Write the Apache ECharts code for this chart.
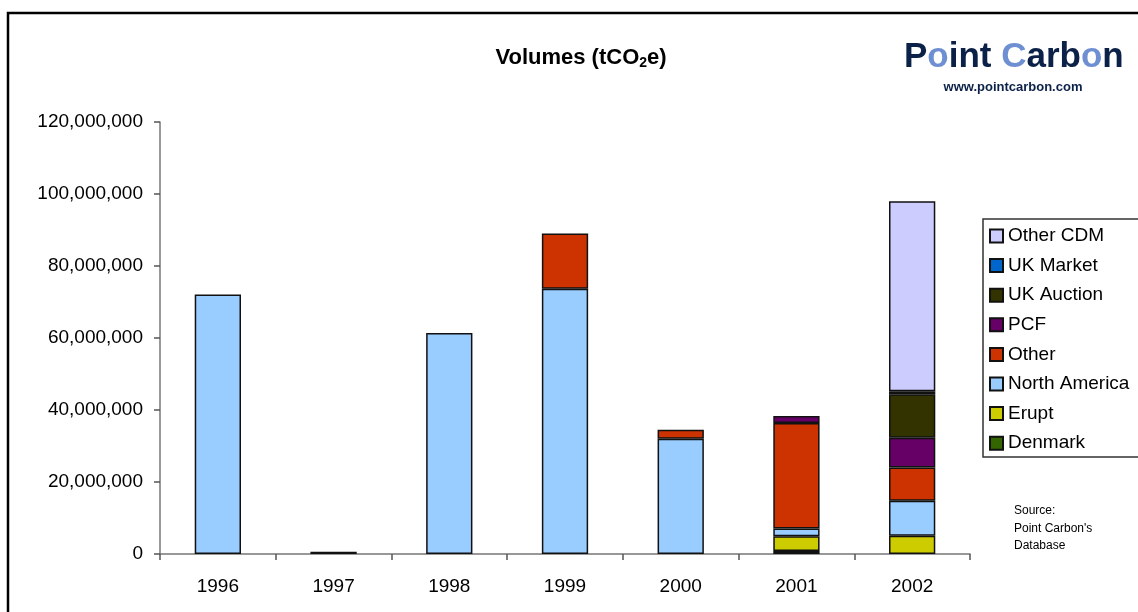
<!DOCTYPE html>
<html>
<head>
<meta charset="utf-8">
<script src="https://cdn.jsdelivr.net/npm/echarts@6/dist/echarts.min.js"></script>
<style>
  html, body { margin: 0; padding: 0; background: #fff; }
  #chart { width: 1138px; height: 612px; }
</style>
</head>
<body>
<div id="chart"></div>
<script>
// Traded volumes by year, tonnes CO2 equivalent
const years = ['1996', '1997', '1998', '1999', '2000', '2001', '2002'];

const denmark      = [null, null, null, null, null, 800000, null];
const erupt        = [null, null, null, null, null, 4100000, 5100000];
const northAmerica = [72100000, 600000, 61400000, 73700000, 32000000, 2200000, 9700000];
const other        = [null, null, null, 15300000, 2500000, 29300000, 9200000];
const pcf          = [null, null, null, null, null, 1900000, 8300000];
const ukAuction    = [null, null, null, null, null, null, 12100000];
const ukMarket     = [null, null, null, null, null, null, 800000];
const otherCDM     = [null, null, null, null, null, null, 52800000];

const yTicks = { min: 0, max: 120000000, interval: 20000000 };

const seriesDefs = [
  { name: 'Denmark',       data: denmark,      color: '#336600' },
  { name: 'Erupt',         data: erupt,        color: '#cccc00' },
  { name: 'North America', data: northAmerica, color: '#99ccff' },
  { name: 'Other',         data: other,        color: '#cc3300' },
  { name: 'PCF',           data: pcf,          color: '#660066' },
  { name: 'UK Auction',    data: ukAuction,    color: '#333300' },
  { name: 'UK Market',     data: ukMarket,     color: '#0066cc' },
  { name: 'Other CDM',     data: otherCDM,     color: '#ccccff' }
];

const FONT = '"Liberation Sans", Arial, sans-serif';
const NAVY = '#0b2148';
const SKY = '#6f8fd3';

const chart = echarts.init(document.getElementById('chart'), null, { renderer: 'canvas' });

const graphics = [
  { type: 'rect', shape: { x: 8, y: 13, width: 1200, height: 700 },
    style: { fill: 'none', stroke: '#000', lineWidth: 2.5 }, silent: true },
  { type: 'rect', shape: { x: 983, y: 219, width: 200, height: 238 },
    style: { fill: '#fff', stroke: '#333', lineWidth: 1.5 }, silent: true, z: -1 },
  { type: 'text', x: 581, y: 58,
    style: {
      text: '{a|Volumes (tCO}{s|2}{a|e)}',
      textAlign: 'center', textVerticalAlign: 'middle',
      rich: {
        a: { font: 'bold 22px ' + FONT, fill: '#000' },
        s: { font: 'bold 14px ' + FONT, fill: '#000', padding: [10, 0, 0, 0] }
      }
    } },
  // logo wordmark
  { type: 'text', x: 904, y: 57,
    style: {
      text: '{d|P}{l|o}{d|int }{l|C}{d|arb}{l|o}{d|n}',
      textAlign: 'left', textVerticalAlign: 'middle',
      rich: {
        d: { font: 'bold 35px ' + FONT, fill: NAVY },
        l: { font: 'bold 35px ' + FONT, fill: SKY }
      }
    } },
  { type: 'text', x: 1013, y: 87,
    style: { text: 'www.pointcarbon.com', font: 'bold 13px ' + FONT, fill: NAVY,
             textAlign: 'center', textVerticalAlign: 'middle' } },
  { type: 'text', x: 1014, y: 502,
    style: { text: "Source:\nPoint Carbon's\nDatabase", font: '12px ' + FONT, fill: '#000',
             lineHeight: 17.5, textAlign: 'left', textVerticalAlign: 'top' } }
];

chart.setOption({
  animation: false,
  backgroundColor: '#fff',
  grid: { left: 160, right: 168, top: 122, bottom: 58, containLabel: false },
  legend: {
    orient: 'vertical',
    left: 989, top: 226,
    padding: 0,
    itemWidth: 13, itemHeight: 13,
    itemGap: 9.6,
    icon: 'rect',
    data: seriesDefs.map(function (s) { return s.name; }).reverse(),
    textStyle: { fontFamily: FONT, fontSize: 19, color: '#000', lineHeight: 20 },
    selectedMode: false
  },
  xAxis: {
    type: 'category',
    data: years,
    axisLine: { lineStyle: { color: '#777', width: 1.5 } },
    axisTick: { show: true, length: 6, lineStyle: { color: '#555', width: 1.5 } },
    axisLabel: { color: '#000', fontFamily: FONT, fontSize: 19, margin: 23 }
  },
  yAxis: {
    type: 'value',
    min: yTicks.min, max: yTicks.max, interval: yTicks.interval,
    axisLine: { show: true, lineStyle: { color: '#777', width: 1.5 } },
    axisTick: { show: true, length: 6, lineStyle: { color: '#555', width: 1.5 } },
    splitLine: { show: false },
    axisLabel: {
      color: '#000', fontFamily: FONT, fontSize: 19, margin: 17,
      formatter: function (v) { return v.toLocaleString('en-US'); }
    }
  },
  series: seriesDefs.map(function (s) {
    return {
      name: s.name,
      type: 'bar',
      stack: 'total',
      data: s.data,
      barCategoryGap: '60%',
      itemStyle: { color: s.color, borderColor: '#111', borderWidth: 1.5 }
    };
  }),
  graphic: graphics
});
</script>
</body>
</html>
